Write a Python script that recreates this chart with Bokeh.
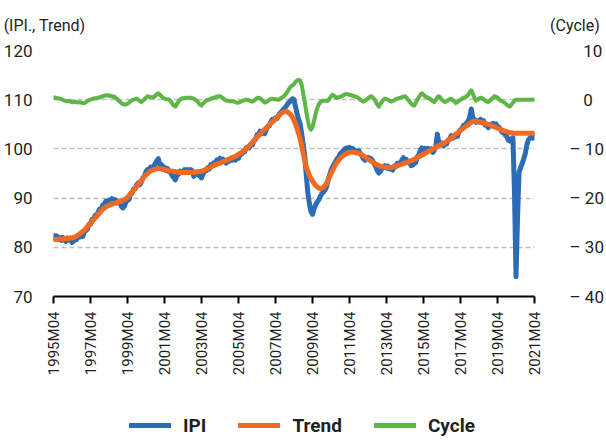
import math
from bokeh.plotting import figure
from bokeh.layouts import column
from bokeh.models import (Range1d, LinearAxis, FixedTicker, CustomJSTickFormatter,
                          Legend, LegendItem, ColumnDataSource)
from bokeh.embed import file_html
from bokeh.resources import INLINE

# ---------------- data (monthly, 1995M04 .. 2021M04) ----------------
ipi = [
    82.4, 81.8, 82.3, 81.6, 82.0, 81.4, 82.0, 81.5, 81.2, 81.9, 81.5, 81.7,
    81.0, 81.2, 81.9, 81.6, 82.2, 82.1, 82.6, 82.2, 83.2, 83.4, 83.7, 84.7,
    84.7, 85.7, 85.7, 86.5, 86.3, 87.2, 87.8, 87.8, 88.6, 88.7, 89.4, 89.1,
    89.6, 89.4, 89.9, 89.3, 89.7, 89.0, 89.2, 89.2, 88.3, 88.0, 88.4, 89.2,
    89.6, 89.7, 90.9, 91.0, 91.9, 91.9, 92.7, 93.1, 92.7, 93.3, 94.1, 94.4,
    95.4, 95.8, 95.7, 96.3, 96.1, 96.5, 97.0, 97.6, 98.0, 96.7, 96.8, 95.9,
    96.3, 95.6, 96.0, 95.3, 95.3, 94.5, 94.2, 93.7, 94.6, 94.8, 95.5, 95.2,
    95.3, 95.8, 95.5, 95.8, 95.3, 95.8, 95.6, 94.4, 95.2, 95.3, 94.6, 94.5,
    94.1, 94.9, 95.5, 95.5, 96.2, 95.9, 96.8, 96.7, 97.2, 97.1, 97.8, 97.6,
    98.1, 97.5, 97.9, 97.6, 97.1, 97.8, 97.5, 98.1, 97.7, 98.2, 97.7, 98.2,
    98.1, 98.9, 98.9, 99.5, 99.4, 100.2, 100.4, 100.2, 101.0, 100.8, 101.7, 101.9,
    102.9, 103.0, 103.6, 103.1, 103.6, 103.1, 103.9, 104.6, 104.7, 105.5, 106.0, 105.8,
    106.3, 106.2, 106.9, 107.3, 107.6, 108.0, 108.3, 108.7, 109.2, 109.5, 109.9, 110.2,
    110.0, 108.6, 107.1, 106.0, 105.1, 103.0, 100.8, 98.5, 94.5, 91.0, 88.8, 87.3,
    86.7, 87.8, 88.6, 89.2, 89.6, 90.3, 90.9, 91.2, 91.6, 92.2, 93.5, 94.6,
    95.6, 96.3, 96.9, 97.4, 98.0, 98.4, 99.0, 99.3, 99.6, 100.0, 100.2, 100.1,
    100.3, 100.0, 100.1, 99.8, 99.6, 99.5, 99.6, 99.1, 98.6, 98.0, 97.7, 98.1,
    98.3, 98.1, 98.0, 97.6, 97.0, 96.4, 95.6, 95.1, 95.4, 96.0, 96.2, 96.6,
    96.1, 96.5, 95.9, 96.0, 95.7, 96.5, 96.4, 97.1, 97.1, 96.9, 97.8, 98.2,
    97.6, 97.8, 97.2, 97.3, 96.6, 96.7, 97.0, 97.2, 98.4, 98.8, 99.8, 100.2,
    99.7, 100.1, 99.6, 100.1, 99.7, 100.0, 99.3, 99.7, 100.6, 103.0, 101.0, 100.9,
    101.2, 100.6, 101.1, 101.0, 101.8, 102.0, 102.7, 102.2, 102.4, 102.5, 102.5, 103.5,
    103.9, 104.1, 104.8, 104.7, 105.3, 105.6, 106.5, 108.1, 106.3, 106.0, 105.4, 105.7,
    105.5, 106.0, 105.5, 105.7, 104.8, 104.8, 104.3, 104.9, 104.8, 105.2, 105.0, 105.1,
    104.5, 104.4, 103.9, 103.4, 103.5, 102.8, 102.6, 101.8, 101.6, 102.0, 102.3, 91.5,
    74.0, 86.0, 95.3, 96.2, 97.0, 98.0, 99.0, 100.8, 101.8, 102.2, 102.5, 102.2,
    102.9,
]

trend = [
    81.6, 81.6, 81.6, 81.6, 81.7, 81.7, 81.7, 81.7, 81.8, 81.8, 81.8, 81.9,
    81.9, 82.0, 82.1, 82.3, 82.5, 82.7, 83.0, 83.2, 83.5, 83.8, 84.2, 84.5,
    84.9, 85.3, 85.6, 86.0, 86.3, 86.7, 87.0, 87.4, 87.7, 88.0, 88.2, 88.4,
    88.5, 88.7, 88.8, 88.9, 89.0, 89.1, 89.2, 89.3, 89.4, 89.6, 89.7, 89.9,
    90.2, 90.5, 90.9, 91.2, 91.6, 92.0, 92.4, 92.8, 93.2, 93.6, 94.0, 94.4,
    94.7, 95.0, 95.3, 95.5, 95.7, 95.8, 95.9, 96.0, 96.0, 96.0, 95.9, 95.9,
    95.8, 95.7, 95.7, 95.6, 95.5, 95.5, 95.4, 95.4, 95.3, 95.3, 95.2, 95.2,
    95.2, 95.2, 95.2, 95.2, 95.2, 95.2, 95.2, 95.2, 95.3, 95.3, 95.4, 95.4,
    95.5, 95.6, 95.7, 95.9, 96.0, 96.2, 96.3, 96.5, 96.6, 96.8, 96.9, 97.0,
    97.1, 97.2, 97.4, 97.5, 97.6, 97.8, 97.9, 98.1, 98.2, 98.4, 98.5, 98.7,
    98.9, 99.1, 99.3, 99.5, 99.8, 100.0, 100.3, 100.6, 101.0, 101.3, 101.7, 102.0,
    102.4, 102.7, 103.0, 103.3, 103.7, 104.0, 104.3, 104.6, 104.9, 105.2, 105.5, 105.8,
    106.1, 106.4, 106.7, 107.0, 107.3, 107.5, 107.6, 107.6, 107.5, 107.2, 106.9, 106.4,
    105.8, 105.0, 104.1, 103.1, 102.0, 100.6, 99.0, 97.6, 96.3, 95.4, 94.6, 94.0,
    93.5, 93.0, 92.6, 92.3, 92.1, 91.9, 92.0, 92.2, 92.5, 93.0, 93.6, 94.3,
    95.0, 95.6, 96.2, 96.8, 97.3, 97.7, 98.1, 98.4, 98.7, 98.9, 99.1, 99.2,
    99.3, 99.3, 99.3, 99.3, 99.2, 99.2, 99.1, 99.0, 98.8, 98.6, 98.4, 98.2,
    97.9, 97.7, 97.5, 97.3, 97.1, 96.9, 96.8, 96.6, 96.5, 96.4, 96.3, 96.3,
    96.2, 96.2, 96.2, 96.2, 96.3, 96.4, 96.5, 96.6, 96.7, 96.8, 96.9, 97.0,
    97.1, 97.2, 97.3, 97.5, 97.6, 97.7, 97.9, 98.0, 98.2, 98.4, 98.6, 98.8,
    98.9, 99.1, 99.3, 99.5, 99.6, 99.8, 99.9, 100.1, 100.3, 100.5, 100.6, 100.8,
    101.0, 101.1, 101.3, 101.5, 101.7, 102.0, 102.2, 102.5, 102.7, 103.0, 103.2, 103.5,
    103.7, 104.0, 104.2, 104.5, 104.7, 104.9, 105.2, 105.4, 105.6, 105.6, 105.6, 105.5,
    105.5, 105.4, 105.3, 105.3, 105.2, 105.1, 105.0, 104.9, 104.8, 104.6, 104.5, 104.4,
    104.2, 104.1, 103.9, 103.8, 103.7, 103.6, 103.5, 103.4, 103.3, 103.3, 103.2, 103.2,
    103.2, 103.2, 103.2, 103.2, 103.2, 103.2, 103.2, 103.2, 103.2, 103.2, 103.2, 103.2,
    103.2,
]

cycle = [
    0.5, 0.4, 0.3, 0.3, 0.2, 0.1, 0.0, -0.2, -0.3, -0.3, -0.2, -0.4,
    -0.5, -0.5, -0.4, -0.5, -0.6, -0.5, -0.6, -0.7, -0.7, -0.5, -0.3, -0.1,
    0.0, 0.1, 0.2, 0.3, 0.3, 0.4, 0.5, 0.6, 0.7, 0.8, 0.9, 0.9,
    0.8, 0.8, 0.7, 0.6, 0.5, 0.2, -0.1, -0.4, -0.7, -0.9, -1.0, -1.0,
    -0.8, -0.6, -0.3, -0.1, 0.0, 0.1, 0.2, 0.0, -0.3, -0.5, -0.2, 0.1,
    0.4, 0.7, 0.6, 0.5, 0.5, 0.5, 0.8, 1.1, 1.3, 1.0, 0.7, 0.4,
    0.2, 0.1, 0.1, 0.0, -0.3, -0.8, -1.2, -1.4, -0.9, -0.4, 0.0, 0.2,
    0.3, 0.3, 0.4, 0.4, 0.4, 0.4, 0.3, 0.2, 0.0, -0.2, -0.6, -1.0,
    -1.2, -0.8, -0.5, -0.2, 0.0, 0.0, 0.2, 0.3, 0.4, 0.5, 0.6, 0.7,
    0.7, 0.5, 0.3, 0.0, -0.2, -0.2, -0.3, -0.3, -0.3, -0.4, -0.5, -0.6,
    -0.6, -0.5, -0.3, -0.2, -0.1, 0.0, 0.0, -0.2, -0.3, -0.4, -0.2, 0.1,
    0.3, 0.4, 0.3, 0.0, -0.3, -0.6, -0.5, -0.3, 0.0, 0.1, 0.2, 0.1,
    0.1, 0.0, 0.0, 0.2, 0.4, 0.6, 0.9, 1.2, 1.8, 2.3, 2.7, 2.9,
    3.2, 3.6, 3.9, 4.0, 3.9, 3.0, 1.2, -0.5, -2.5, -4.3, -5.6, -6.1,
    -5.6, -4.3, -2.9, -1.8, -1.0, -0.5, -0.3, -0.2, -0.2, -0.2, -0.2, 0.2,
    0.7, 1.0, 0.8, 0.5, 0.4, 0.5, 0.6, 0.7, 0.9, 1.1, 1.2, 1.1,
    1.0, 0.9, 0.8, 0.7, 0.6, 0.5, 0.3, 0.0, -0.2, -0.4, -0.2, 0.0,
    0.3, 0.5, 0.7, 0.5, 0.1, -0.4, -1.0, -1.4, -0.9, -0.4, 0.0, 0.2,
    0.1, 0.0, -0.2, -0.4, -0.3, -0.1, 0.1, 0.2, 0.3, 0.4, 0.5, 0.6,
    0.7, 0.4, 0.0, -0.4, -0.8, -1.1, -1.2, -0.6, 0.0, 0.5, 1.0, 1.3,
    1.0, 0.7, 0.5, 0.4, 0.2, 0.0, -0.3, -0.5, 0.0, 0.5, 0.7, 0.4,
    0.0, -0.3, -0.5, -0.3, -0.1, 0.1, 0.2, -0.1, -0.4, -0.7, -0.5, -0.2,
    0.0, 0.2, 0.4, 0.5, 0.7, 1.0, 1.5, 1.9, 1.2, 0.4, -0.2, 0.0,
    0.2, 0.4, 0.3, 0.1, -0.2, -0.4, -0.5, -0.2, 0.1, 0.4, 0.7, 0.6,
    0.4, 0.1, -0.2, -0.3, -0.5, -0.7, -1.0, -1.3, -1.4, -1.0, -0.6, -0.2,
    0.0, 0.0, 0.0, 0.0, 0.0, 0.0, 0.0, 0.0, 0.0, 0.0, 0.0, 0.0,
    0.0,
]

start_year, start_month = 1995, 4
months = [f"{start_year + (start_month - 1 + k) // 12}M{(start_month - 1 + k) % 12 + 1:02d}"
          for k in range(len(ipi))]
x_tick_pos = list(range(0, len(ipi), 24))
x_tick_labels = [months[k] for k in x_tick_pos]
left_ticks = [70, 80, 90, 100, 110, 120]
right_ticks = [-40, -30, -20, -10, 0, 10]
series_names = ["IPI", "Trend", "Cycle"]
left_title = "(IPI., Trend)"
right_title = "(Cycle)"

# ---------------- styling / layout ----------------
FONT = "Roboto"
BLUE = "#2B6CB5"
ORANGE = "#F26A22"
GREEN = "#5DB646"
TXT = "#231F20"
W = 606
H_MAIN, H_LEG = 400, 40
FRAME_L, FRAME_R, FRAME_T, FRAME_B = 53, 537, 50, 296
FS = "\u2007"  # figure space, used only as invisible padding

src = ColumnDataSource(dict(x=list(range(len(ipi))), ipi=ipi, trend=trend, cycle=cycle))

p = figure(width=W, height=H_MAIN,
           x_range=Range1d(0, len(ipi) - 1), y_range=Range1d(70, 120),
           output_backend="svg", toolbar_location=None,
           min_border_left=FRAME_L, min_border_right=W - FRAME_R,
           min_border_top=FRAME_T, min_border_bottom=H_MAIN - FRAME_B)
p.extra_y_ranges = {"cycle": Range1d(-40, 10)}
p.extra_x_ranges = {"px": Range1d(FRAME_L, FRAME_R)}
p.outline_line_color = None
p.background_fill_color = "white"
p.border_fill_color = "white"

line_styles = [dict(line_color=BLUE, line_width=5),
               dict(line_color=ORANGE, line_width=5),
               dict(line_color=GREEN, line_width=4)]

r1 = p.line("x", "ipi", source=src, line_join="round", line_cap="round", **line_styles[0])
r2 = p.line("x", "trend", source=src, line_join="round", line_cap="round", **line_styles[1])
r3 = p.line("x", "cycle", source=src, y_range_name="cycle", line_join="round",
            line_cap="round", **line_styles[2])

# grid
p.xgrid.visible = False
p.ygrid.grid_line_color = "#BFBFBF"
p.ygrid.grid_line_width = 1.5
p.ygrid.grid_line_dash = "5 3"
p.ygrid.ticker = FixedTicker(ticks=left_ticks)

# x axis
xa = p.xaxis[0]
xa.ticker = FixedTicker(ticks=x_tick_pos)
xa.major_label_overrides = {k: lab for k, lab in zip(x_tick_pos, x_tick_labels)}
xa.major_label_orientation = math.pi / 2
xa.axis_line_color = "black"
xa.axis_line_width = 2
xa.major_tick_line_color = "black"
xa.major_tick_line_width = 2
xa.major_tick_out = 7
xa.major_tick_in = 0
xa.minor_tick_line_color = None
xa.major_label_standoff = 8
xa.major_label_text_font = FONT
xa.major_label_text_font_size = "15px"
xa.major_label_text_color = TXT

# left axis
ya = p.yaxis[0]
ya.ticker = FixedTicker(ticks=left_ticks)
ya.axis_line_color = None
ya.major_tick_line_color = None
ya.minor_tick_line_color = None
ya.major_tick_out = 0
ya.major_tick_in = 0
ya.major_label_standoff = 21
ya.major_label_text_font = FONT
ya.major_label_text_font_size = "17px"
ya.major_label_text_color = TXT

# right axis (labels padded to equal width: digits line up, minus sign hangs left)
ra = LinearAxis(y_range_name="cycle", ticker=FixedTicker(ticks=right_ticks))
ra.formatter = CustomJSTickFormatter(code="""
    const s = String(Math.abs(tick));
    const pre = tick < 0 ? '\u2013 ' : '\u2007 ';
    const post = s.length < 2 ? '\u2007' : '';
    return pre + s + post;
""")
ra.axis_line_color = None
ra.major_tick_line_color = None
ra.minor_tick_line_color = None
ra.major_tick_out = 0
ra.major_tick_in = 0
ra.major_label_standoff = 35
ra.major_label_text_font = FONT
ra.major_label_text_font_size = "17px"
ra.major_label_text_color = TXT
p.add_layout(ra, "right")

# axis titles: labels of a bare axis above the frame, anchored at the frame corners
ta = LinearAxis(x_range_name="px", ticker=FixedTicker(ticks=[FRAME_L, FRAME_R]))
ta.major_label_overrides = {FRAME_L: left_title + FS * 2,
                            FRAME_R: FS * 9 + right_title}
ta.axis_line_color = None
ta.major_tick_line_color = None
ta.minor_tick_line_color = None
ta.major_tick_out = 0
ta.major_tick_in = 0
ta.major_label_standoff = 16
ta.major_label_text_font = FONT
ta.major_label_text_font_size = "16px"
ta.major_label_text_color = TXT
p.add_layout(ta, "above")

# legend strip under the chart; its proxy lines lie far outside the strip's ranges,
# so only the legend samples are seen. (Its frame is aligned with the chart's frame.)
leg = figure(width=W, height=H_LEG, x_range=Range1d(-1001, -1000),
             y_range=Range1d(-1001, -1000),
             x_axis_type=None, y_axis_type=None,
             output_backend="svg", toolbar_location=None,
             min_border_left=0, min_border_right=0, min_border_top=0, min_border_bottom=0)
leg.grid.visible = False
leg.outline_line_color = None
leg.background_fill_color = "white"
leg.border_fill_color = "white"
g1 = leg.line("x", "ipi", source=src, line_cap="round", **line_styles[0])
g2 = leg.line("x", "trend", source=src, line_cap="round", **line_styles[1])
g3 = leg.line("x", "cycle", source=src, line_cap="round", line_color=GREEN, line_width=5)
legend = Legend(items=[LegendItem(label=series_names[0], renderers=[g1]),
                       LegendItem(label=series_names[1], renderers=[g2]),
                       LegendItem(label=series_names[2], renderers=[g3])],
                orientation="horizontal", location=(129 - FRAME_L, 3),
                glyph_width=42, glyph_height=24, label_standoff=12, spacing=32,
                label_text_font=FONT, label_text_font_style="bold",
                label_text_font_size="19px", label_text_color=TXT,
                border_line_color=None, background_fill_alpha=0,
                padding=0, margin=0)
leg.add_layout(legend, "center")

layout = column(p, leg, spacing=0)
open("out.html", "w").write(file_html(layout, INLINE))
